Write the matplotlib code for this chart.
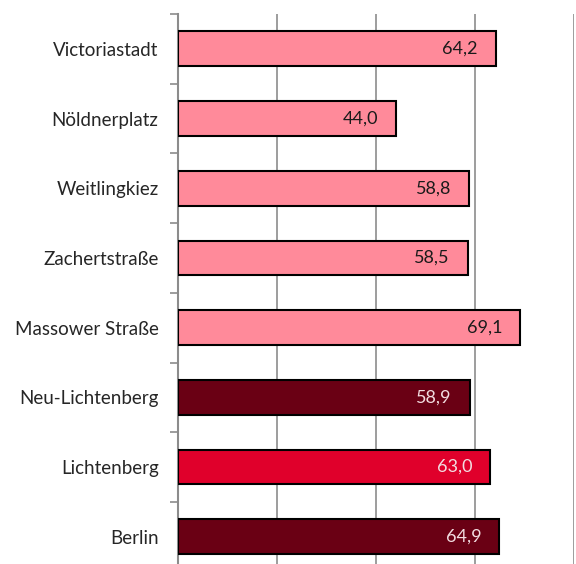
import matplotlib
matplotlib.use("Agg")
import matplotlib.pyplot as plt

categories = ["Victoriastadt", "Nöldnerplatz", "Weitlingkiez", "Zachertstraße",
              "Massower Straße", "Neu-Lichtenberg", "Lichtenberg", "Berlin"]
values = [64.2, 44.0, 58.8, 58.5, 69.1, 58.9, 63.0, 64.9]
colors = ["#FF8A9A"] * 5 + ["#6A0014", "#E0002B", "#6A0014"]
text_colors = ["#1a1a1a"] * 5 + ["#F2DCE0"] * 3

plt.rcParams['font.family'] = ['Lato', 'DejaVu Sans']

fig = plt.figure(figsize=(5.76, 5.64), dpi=100)
ax = fig.add_axes([178/576, -7.6/564, 396/576, 557.6/564])

n = len(categories)
ys = list(range(n))
ax.barh(ys, values, height=0.5, color=colors, edgecolor="black", linewidth=1.5, zorder=3)
ax.set_ylim(n - 0.5, -0.5)
ax.set_xlim(0, 80)

for y, v, tc in zip(ys, values, text_colors):
    ax.text(v - 3.6, y, f"{v:.1f}".replace(".", ","), ha="right", va="center",
            color=tc, fontsize=13, zorder=4)

ax.set_xticks([20, 40, 60, 80])
ax.xaxis.grid(True, color="#8c8c8c", linewidth=1.2, zorder=0)
ax.tick_params(axis="x", length=0, labelbottom=False)

ax.set_yticks(ys)
ax.set_yticklabels(categories, fontsize=13.5, color="#262626")
ax.tick_params(axis="y", which="major", length=0, pad=14)
ax.set_yticks([i - 0.5 for i in range(n + 1)], minor=True)
ax.tick_params(axis="y", which="minor", length=6, color="#8c8c8c", width=1.2)

for s in ["top", "right", "bottom"]:
    ax.spines[s].set_visible(False)
ax.spines["left"].set_color("#8c8c8c")
ax.spines["left"].set_linewidth(1.5)

fig.savefig("out.png", dpi=100)
